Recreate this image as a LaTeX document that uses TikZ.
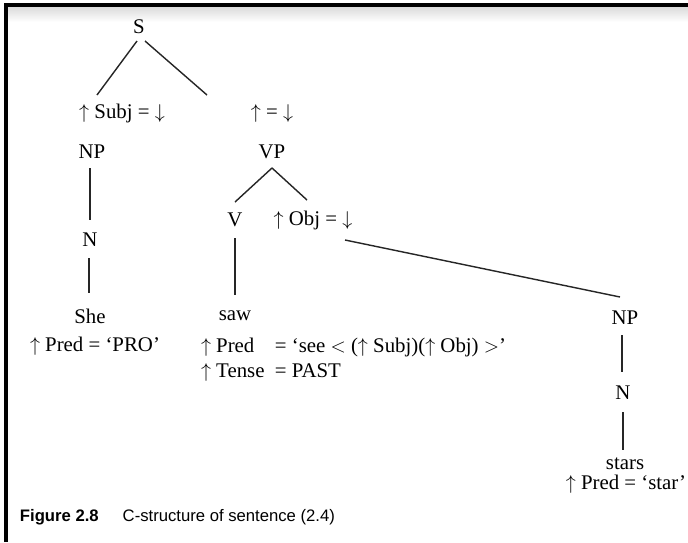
\documentclass[tikz,border=0pt]{standalone}
\usepackage{fontspec}
\setmainfont{Liberation Serif}
\setsansfont{Liberation Sans}
\usetikzlibrary{positioning,calc}

\begin{document}
\begin{tikzpicture}[x=0.6pt, y=-0.6pt,
  cat/.style={inner sep=1pt, font=\fontsize{12.5}{15}\selectfont},
  ann/.style={inner sep=1pt, font=\fontsize{12.5}{15}\selectfont},
  capt/.style={inner sep=1pt, anchor=west, font=\sffamily\fontsize{10}{12}\selectfont},
  branch/.style={line width=0.85pt, black!85}]
\useasboundingbox (0,0) rectangle (688,542);
% frame of the scanned figure
\shade[top color=black!15, bottom color=white] (6,6) rectangle (688,22);
\draw[line width=2pt] (6,542) -- (6,5) -- (688,5);
% c-structure nodes
\node[cat] (S) at (139,27) {S};
\node[ann] (subj) at (122,113) {$\uparrow$ Subj = $\downarrow$};
\node[ann] (head) at (272,113) {$\uparrow$ = $\downarrow$};
\node[cat] (NPa) at (92,152) {NP};
\node[cat] (VP) at (272,152) {VP};
\node[cat] (Na) at (90,240) {N};
\node[cat] (She) at (90,316) {She};
\node[ann] (predPRO) at (95,346) {$\uparrow$ Pred = `PRO'};
\node[cat] (V) at (235,220) {V};
\node[ann] (obj) at (313,220) {$\uparrow$ Obj = $\downarrow$};
\node[cat] (saw) at (235,316) {saw};
\node[ann, anchor=west] (fsaw) at (199,360)
  {\begin{tabular}{@{}l@{\ \ }l@{}}
   $\uparrow$ Pred & = `see $<$ ($\uparrow$ Subj)($\uparrow$ Obj) $>$'\\[0pt]
   $\uparrow$ Tense & = PAST
   \end{tabular}};
\node[cat] (NPb) at (625,318) {NP};
\node[cat] (Nb) at (623,393) {N};
\node[cat] (stars) at (625,464) {stars};
\node[ann] (predstar) at (626,484) {$\uparrow$ Pred = `star'};
% branches
\draw[branch] ($(S)+(-2,14)$) -- ($(subj)+(-25,-18)$);
\draw[branch] ($(S)+(6,14)$) -- ($(head)+(-65,-18)$);
\draw[branch] ($(NPa)+(-2,16)$) -- ($(Na)+(0,-20)$);
\draw[branch] ($(Na)+(-1,18)$) -- ($(She)+(-1,-23)$);
\draw[branch] ($(VP)+(0,16)$) -- ($(V)+(0,-18)$);
\draw[branch] ($(VP)+(0,16)$) -- ($(obj)+(-6,-20)$);
\draw[branch] ($(V)+(0,18)$) -- ($(saw)+(0,-21)$);
\draw[branch] ($(obj)+(32,20)$) -- ($(NPb)+(-5,-21)$);
\draw[branch] ($(NPb)+(-3,17)$) -- ($(Nb)+(-1,-21)$);
\draw[branch] ($(Nb)+(0,19)$) -- ($(stars)+(-2,-14)$);
% caption
\node[capt, font=\sffamily\bfseries\fontsize{10}{12}\selectfont] (figlab) at (18,517) {Figure 2.8};
\node[capt, right=12pt of figlab] (figcap) {C-structure of sentence (2.4)};
\end{tikzpicture}
\end{document}
